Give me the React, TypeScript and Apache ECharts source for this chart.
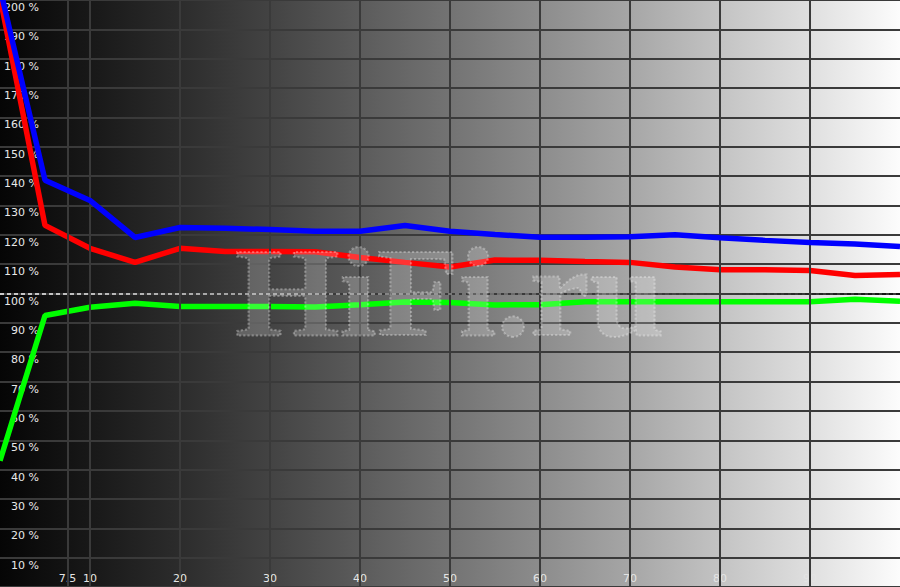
import React, { useEffect, useRef } from "react";
import * as echarts from "echarts";

// Stimulus levels (%)
const levels = [0, 5, 10, 15, 20, 25, 30, 35, 40, 45, 50, 55, 60, 65, 70, 75, 80, 85, 90, 95, 100];
// RGB levels (%)
const redValues = [201, 123.2, 115.4, 110.6, 115.4, 114.3, 114.3, 114.2, 112.3, 110.6, 109.0, 111.4, 111.3, 110.9, 110.6, 109.0, 108.1, 108.1, 107.8, 106.1, 106.5];
const greenValues = [43.0, 92.5, 95.3, 96.7, 95.6, 95.6, 95.6, 95.4, 96.2, 97.1, 96.9, 96.1, 96.2, 97.2, 97.2, 97.2, 97.2, 97.2, 97.2, 98.0, 97.4];
const blueValues = [204, 138.6, 131.7, 119.1, 122.5, 122.2, 121.8, 121.2, 121.2, 123.2, 121.2, 120.1, 119.2, 119.2, 119.3, 120.0, 119.0, 118.1, 117.4, 116.9, 116.0];

// Vertical grid / x tick labels
const xGridValues = [7.5, 10, 20, 30, 40, 50, 60, 70, 80, 90];
const xTickLabels = [7.5, 10, 20, 30, 40, 50, 60, 70, 80, 90];
const referenceLevel = 100;
const watermarkText = "HiFi.ru";

const bgStops = ["#050505", "#181818", "#2c2c2c", "#434343", "#5b5b5b", "#737373", "#8c8c8c", "#a6a6a6", "#c3c3c3", "#dfdfdf", "#fcfcfc"];

function invert(hex: string) {
  const v = 255 - parseInt(hex.slice(1, 3), 16);
  const h = v.toString(16).padStart(2, "0");
  return `#${h}${h}${h}`;
}

export default function App() {
  const ref = useRef<HTMLDivElement>(null);
  useEffect(() => {
    if (!ref.current) return;
    const chart = echarts.init(ref.current, null, { renderer: "svg" });
    const W = 900;

    const bgGradient = {
      type: "linear", x: 0, y: 0, x2: 1, y2: 0,
      colorStops: bgStops.map((c, i) => ({ offset: i / (bgStops.length - 1), color: c })),
    };
    const dashGradient = {
      type: "linear", x: 0, y: 0, x2: W, y2: 0, global: true,
      colorStops: bgStops.map((c, i) => ({ offset: i / (bgStops.length - 1), color: invert(c) })),
    };

    const toPairs = (vals: number[]) => levels.map((x, i) => [x, vals[i]]);
    const lineSeries = (name: string, vals: number[], color: string, z: number) => ({
      name,
      type: "line",
      data: toPairs(vals),
      symbol: "none",
      smooth: false,
      clip: true,
      z,
      lineStyle: { color, width: 5.5 },
      silent: true,
    });

    chart.setOption({
      animation: false,
      grid: {
        left: 0, right: 0, top: 0, bottom: 0,
        show: true, borderWidth: 0, backgroundColor: bgGradient,
      },
      xAxis: {
        type: "value",
        min: 0,
        max: 100,
        interval: 10,
        axisLine: { show: false },
        axisTick: { show: false },
        splitLine: { show: false },
        axisLabel: {
          inside: true,
          margin: 3,
          customValues: xTickLabels,
          formatter: (v: number) => String(v),
          color: "#e4e4e4",
          fontSize: 11,
          fontFamily: "DejaVu Sans",
        },
      },
      yAxis: {
        type: "value",
        min: 0,
        max: 200,
        interval: 10,
        axisLine: { show: false },
        axisTick: { show: false },
        splitLine: { show: true, lineStyle: { color: "#3a3a3a", width: 2 } },
        axisLabel: {
          inside: true,
          margin: 39,
          align: "right",
          verticalAlign: "top",
          padding: [2, 0, 0, 0],
          formatter: (v: number) => (v === 0 ? "" : `${v} %`),
          color: "#e8e8e8",
          fontSize: 11,
          fontFamily: "DejaVu Sans",
        },
      },
      series: [
        {
          type: "line",
          data: [],
          z: 1,
          silent: true,
          markLine: {
            silent: true,
            symbol: "none",
            animation: false,
            label: { show: false },
            lineStyle: { color: "#3a3a3a", width: 2, type: "solid" },
            data: [
              ...xGridValues.map((v) => ({ xAxis: v })),
              {
                yAxis: referenceLevel,
                lineStyle: { color: dashGradient, width: 1.5, type: [4, 3] },
              },
            ],
          },
        },
        lineSeries("Green", greenValues, "#00ff00", 3),
        lineSeries("Red", redValues, "#ff0000", 4),
        lineSeries("Blue", blueValues, "#0000ff", 5),
      ],
      graphic: [
        {
          type: "text",
          x: 235,
          y: 292,
          z: 100,
          silent: true,
          scaleX: 1.05,
          style: {
            text: watermarkText,
            font: 'bold 128px "Liberation Serif"',
            align: "left",
            verticalAlign: "middle",
            fill: "rgba(255,255,255,0.2)",
            stroke: "rgba(255,255,255,0.3)",
            lineWidth: 2,
            lineDash: [2, 2],
          },
        },
      ],
    });
    return () => chart.dispose();
  }, []);
  return (
    <div
      ref={ref}
      style={{ position: "absolute", left: 0, top: 0, width: 900, height: 587 }}
    />
  );
}
